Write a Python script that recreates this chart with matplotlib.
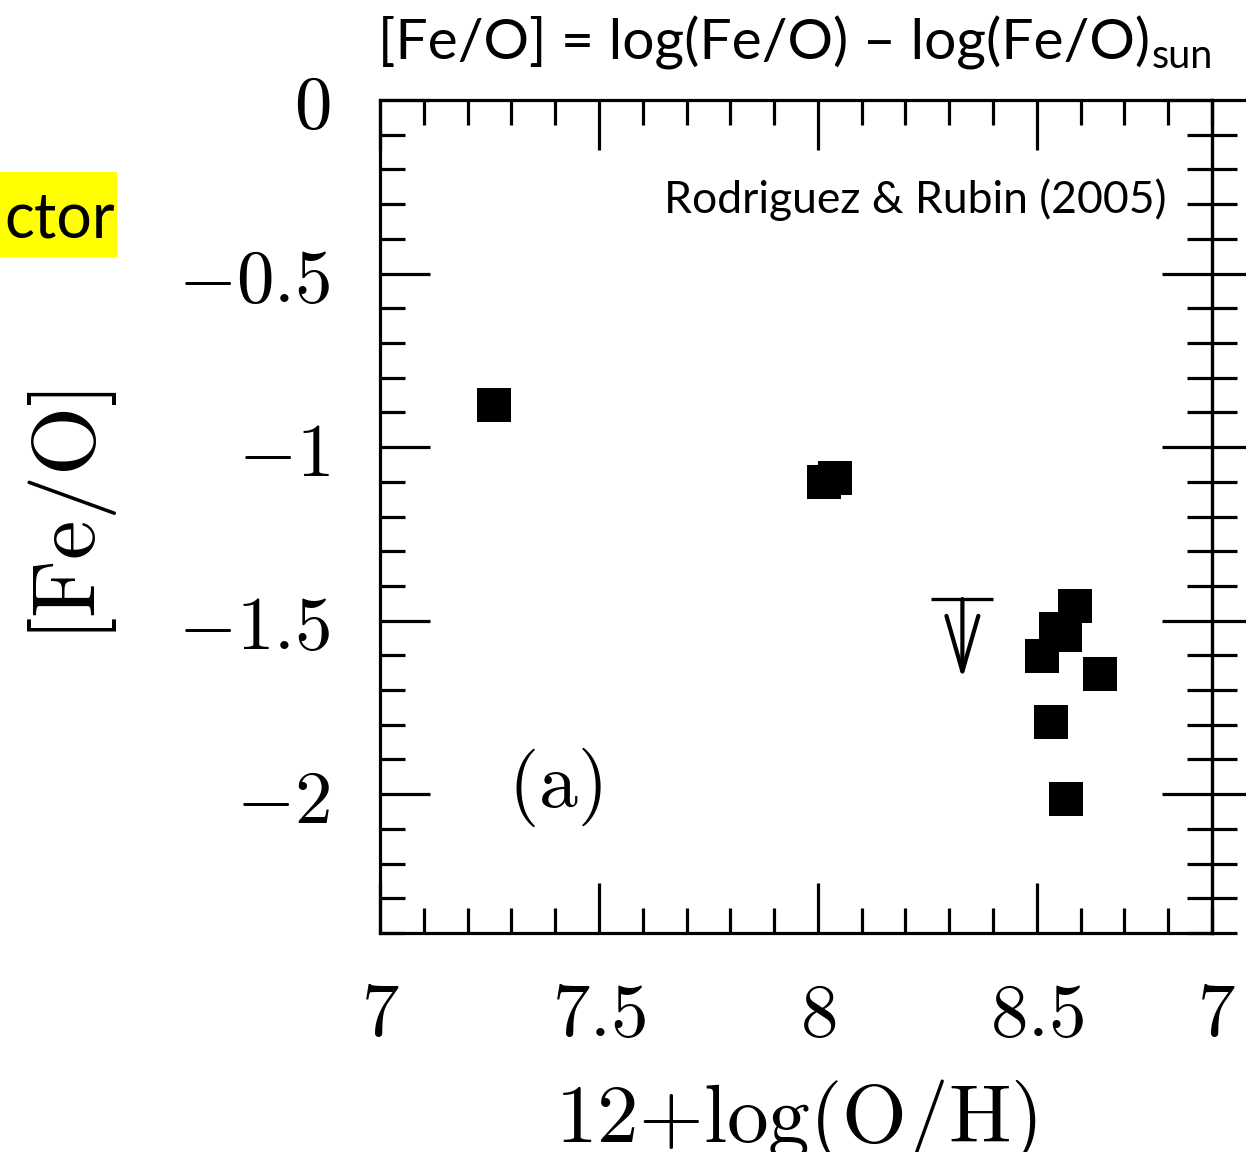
import matplotlib
matplotlib.use("Agg")
import matplotlib.pyplot as plt
from matplotlib.ticker import MultipleLocator, FixedLocator
from matplotlib.patches import Rectangle

# Rodriguez & Rubin (2005): [Fe/O] versus oxygen abundance
oh = [7.26, 8.015, 8.04, 8.588, 8.544, 8.565, 8.511, 8.645, 8.532, 8.567]
feo = [-0.88, -1.10, -1.09, -1.459, -1.525, -1.540, -1.601, -1.653, -1.791, -2.014]

# upper limit
oh_lim = [8.33]
feo_lim = [-1.438]

xtick_values = [7, 7.5, 8, 8.5]
xtick_labels = ["$7$", "$7.5$", "$8$", "$8.5$"]
ytick_values = [0, -0.5, -1, -1.5, -2]
ytick_labels = ["$0$", "$-0.5$", "$-1$", "$-1.5$", "$-2$"]

plt.rcParams["mathtext.fontset"] = "cm"
sans = ["Lato", "DejaVu Sans"]

W, H = 1246, 1152
fig = plt.figure(figsize=(W / 100, H / 100), dpi=100)
ax = fig.add_axes([380 / W, 1 - 933 / H, (1212 - 380) / W, (933 - 100) / H])

ax.set_xlim(7, 8.9)
ax.set_ylim(-2.4, 0)

lw = 2.3
for s in ax.spines.values():
    s.set_linewidth(lw)

ax.xaxis.set_major_locator(FixedLocator(xtick_values))
ax.set_xticklabels(xtick_labels)
ax.xaxis.set_minor_locator(MultipleLocator(0.1))
ax.yaxis.set_major_locator(FixedLocator(ytick_values))
ax.set_yticklabels(ytick_labels)
ax.yaxis.set_minor_locator(MultipleLocator(0.1))

ax.tick_params(which="both", direction="in", top=True, bottom=True,
               left=True, right=False, width=lw, labelsize=54)
ax.tick_params(which="major", length=36)
ax.tick_params(which="minor", length=18)
ax.tick_params(axis="x", which="major", pad=33)
ax.tick_params(axis="y", which="major", pad=36)

# right frame is shared with the neighbouring panel: ticks cross it
sec = ax.secondary_yaxis("right")
sec.yaxis.set_major_locator(FixedLocator(ytick_values))
sec.yaxis.set_minor_locator(MultipleLocator(0.1))
sec.tick_params(which="both", direction="inout", width=lw, labelright=False)
sec.tick_params(which="major", length=72)
sec.tick_params(which="minor", length=36)
sec.spines["right"].set_linewidth(lw)

# first tick label of the neighbouring panel
ax.annotate("$7$", xy=(1, 0), xycoords="axes fraction", xytext=(3, -33),
            textcoords="offset points", ha="center", va="top", fontsize=54,
            annotation_clip=False)

# measurements
ax.plot(oh, feo, linestyle="none", marker="s", ms=24, mew=0, color="black")

# upper limit: bar with a downward arrow
ax.plot(oh_lim, feo_lim, linestyle="none", marker="_", ms=44, mew=2.4, color="black")
arrow_len = 0.23
for x, y in zip(oh_lim, feo_lim):
    ax.annotate("", xy=(x, y - arrow_len), xytext=(x, y),
                arrowprops=dict(arrowstyle="->,head_length=4.0,head_width=1.15",
                                lw=3.0, color="black", shrinkA=0, shrinkB=0))

ax.set_xlabel(r"$\mathrm{12{+}log(O/H)}$", fontsize=60, labelpad=18)
ax.set_ylabel(r"$\mathrm{[Fe/O]}$", fontsize=64, labelpad=42)

ax.text(7.40, -1.98, r"$\mathrm{(a)}$", fontsize=56, ha="center", va="center")
ax.text(0.945, 0.88, "Rodriguez & Rubin (2005)", transform=ax.transAxes,
        ha="right", va="center", fontsize=32, family=sans)

# heading above the frame
title = fig.text(378 / W, 1 - 60 / H, "[Fe/O] = log(Fe/O) \u2013 log(Fe/O)",
                 ha="left", va="baseline", fontsize=41, family=sans)
fig.canvas.draw()
bb = title.get_window_extent()
fig.text(bb.x1 / W + 0.001, 1 - 68 / H, "sun", ha="left", va="baseline",
         fontsize=28.5, family=sans)

# highlighted word on the left
fig.patches.append(Rectangle((0, 1 - 257 / H), 117 / W, 85 / H,
                             transform=fig.transFigure, facecolor="#ffff00",
                             edgecolor="none"))
fig.text(115 / W, 1 - 238 / H, "ctor", ha="right", va="baseline",
         fontsize=45, family=sans)

fig.savefig("out.png", dpi=100)
